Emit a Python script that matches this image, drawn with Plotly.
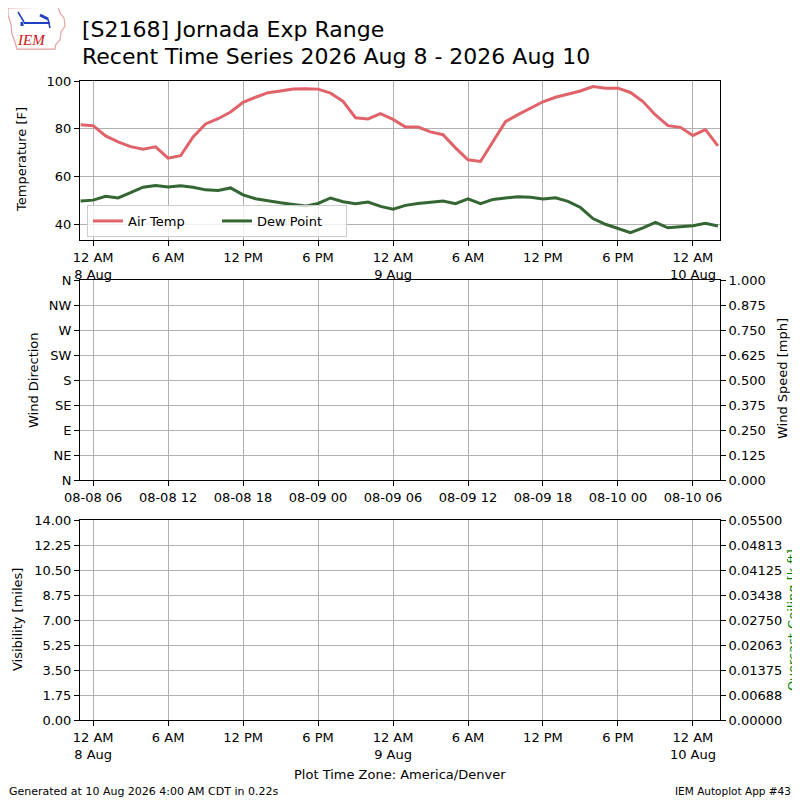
import plotly.graph_objects as go
import pandas as pd

# hourly obs, local time (America/Denver), 2026-08-07 23:00 .. 2026-08-10 02:00
times = pd.date_range("2026-08-07 23:00", "2026-08-10 02:00", freq="h")

air_temp = [81.7, 81.3, 77.0, 74.5, 72.5, 71.4, 72.4, 67.7, 68.7, 76.6,
            82.0, 84.2, 87.0, 91.1, 93.2, 95.1, 95.8, 96.6, 96.8, 96.6,
            94.9, 91.5, 84.6, 84.1, 86.3, 83.9, 80.7, 80.7, 78.7, 77.5,
            72.0, 67.0, 66.3, 74.8, 83.0, 85.9, 88.6, 91.3, 93.2, 94.4,
            95.8, 97.7, 97.0, 97.0, 95.2, 91.4, 85.8, 81.3, 80.6, 77.2,
            79.6, 72.8]
dew_point = [49.7, 50.1, 51.7, 51.0, 53.2, 55.5, 56.2, 55.6, 56.1, 55.5,
             54.4, 54.1, 55.2, 52.3, 50.7, 49.7, 49.0, 48.3, 47.6, 48.7,
             51.0, 49.4, 48.6, 49.3, 47.5, 46.3, 47.9, 48.7, 49.3, 49.7,
             48.6, 50.6, 48.6, 50.4, 51.0, 51.5, 51.3, 50.6, 51.1, 49.6,
             47.0, 42.4, 40.0, 38.2, 36.5, 38.5, 40.8, 38.5, 39.0, 39.4,
             40.4, 39.3]

tick_times = ["2026-08-08 00:00", "2026-08-08 06:00", "2026-08-08 12:00",
              "2026-08-08 18:00", "2026-08-09 00:00", "2026-08-09 06:00",
              "2026-08-09 12:00", "2026-08-09 18:00", "2026-08-10 00:00"]
local_labels = ["12 AM<br>8 Aug", "6 AM", "12 PM", "6 PM", "12 AM<br>9 Aug",
                "6 AM", "12 PM", "6 PM", "12 AM<br>10 Aug"]
utc_labels = ["08-08 06", "08-08 12", "08-08 18", "08-09 00", "08-09 06",
              "08-09 12", "08-09 18", "08-10 00", "08-10 06"]

dir_vals = [0, 45, 90, 135, 180, 225, 270, 315, 360]
dir_labels = ["N", "NE", "E", "SE", "S", "SW", "W", "NW", "N"]
speed_vals = [0, 0.125, 0.25, 0.375, 0.5, 0.625, 0.75, 0.875, 1.0]
vis_vals = [0, 1.75, 3.5, 5.25, 7.0, 8.75, 10.5, 12.25, 14.0]
ceil_vals = [0, 0.006875, 0.01375, 0.020625, 0.0275, 0.034375, 0.04125,
             0.048125, 0.055]
ceil_labels = ["0.00000", "0.00688", "0.01375", "0.02063", "0.02750",
               "0.03438", "0.04125", "0.04813", "0.05500"]

FONT = "DejaVu Sans"
GRID = "#b0b0b0"
x_range = ["2026-08-07 22:57", "2026-08-10 02:10"]

# the page puts the figure 8px in from the top-left corner; place things
# in page pixels and convert
OFF = 8


def px(x):
    return (x - OFF) / 800.0


def py(y):
    return 1 - (y - OFF) / 800.0


fig = go.Figure()

fig.add_trace(go.Scatter(x=times, y=air_temp, mode="lines", name="Air Temp",
                         line=dict(color="#e0636a", width=3),
                         xaxis="x", yaxis="y"))
fig.add_trace(go.Scatter(x=times, y=dew_point, mode="lines", name="Dew Point",
                         line=dict(color="#336633", width=3),
                         xaxis="x", yaxis="y"))
# empty traces so every panel / twin axis is drawn
for xa, ya in [("x2", "y2"), ("x2", "y3"), ("x3", "y4"), ("x3", "y5")]:
    fig.add_trace(go.Scatter(x=[], y=[], xaxis=xa, yaxis=ya, showlegend=False))

xcommon = dict(type="date", range=x_range, tickvals=tick_times,
               showgrid=True, gridcolor=GRID, gridwidth=1,
               showline=True, linecolor="black", linewidth=1, mirror=True,
               ticks="outside", ticklen=5, tickcolor="black",
               zeroline=False, domain=[px(80), px(720)], automargin=False,
               tickfont=dict(family=FONT, size=13, color="black"))
ycommon = dict(showgrid=True, gridcolor=GRID, gridwidth=1,
               showline=True, linecolor="black", linewidth=1, mirror=True,
               ticks="outside", ticklen=5, tickcolor="black", zeroline=False,
               automargin=False,
               tickfont=dict(family=FONT, size=13, color="black"))
yright = dict(showgrid=False, showline=False, ticks="outside", ticklen=5,
              tickcolor="black", zeroline=False, side="right",
              automargin=False,
              tickfont=dict(family=FONT, size=13, color="black"))

fig.update_layout(
    width=800, height=800,
    margin=dict(l=0, r=0, t=0, b=0, autoexpand=False),
    paper_bgcolor="white", plot_bgcolor="white",
    font=dict(family=FONT, size=13, color="black"),
    xaxis=dict(xcommon, anchor="y", ticktext=local_labels),
    yaxis=dict(ycommon, domain=[py(240), py(81)], range=[33.4, 100],
               tickvals=[40, 60, 80, 100]),
    xaxis2=dict(xcommon, anchor="y2", ticktext=utc_labels),
    yaxis2=dict(ycommon, domain=[py(480), py(280)], range=[0, 360],
                tickvals=dir_vals, ticktext=dir_labels, anchor="x2"),
    yaxis3=dict(yright, overlaying="y2", anchor="x2", range=[0, 1],
                tickvals=speed_vals, tickformat=".3f"),
    xaxis3=dict(xcommon, anchor="y4", ticktext=local_labels),
    yaxis4=dict(ycommon, domain=[py(720), py(520)], range=[0, 14],
                tickvals=vis_vals, tickformat=".2f", anchor="x3"),
    yaxis5=dict(yright, overlaying="y4", anchor="x3", range=[0, 0.055],
                tickvals=ceil_vals, ticktext=ceil_labels),
    legend=dict(orientation="h", x=px(87), y=py(205), xanchor="left",
                yanchor="top", bgcolor="rgba(255,255,255,0.8)",
                bordercolor="#cccccc", borderwidth=1,
                font=dict(family=FONT, size=13), entrywidth=84,
                itemwidth=30, tracegroupgap=0),
)

ann = [
    dict(text="[S2168] Jornada Exp Range", x=px(80), y=py(30)),
    dict(text="Recent Time Series 2026 Aug 8 - 2026 Aug 10", x=px(80), y=py(56)),
]
for a in ann:
    fig.add_annotation(xref="paper", yref="paper", xanchor="left",
                       yanchor="middle", showarrow=False,
                       font=dict(family=FONT, size=22, color="black"), **a)

side_titles = [
    ("Temperature [F]", 22, 160, "black"),
    ("Wind Direction", 33, 380, "black"),
    ("Wind Speed [mph]", 782, 379, "black"),
    ("Visibility [miles]", 17, 620, "black"),
    ("Overcast Ceiling [k ft]", 792, 620, "green"),
]
for txt, x, y, c in side_titles:
    fig.add_annotation(text=txt, x=px(x), y=py(y), xref="paper", yref="paper",
                       textangle=-90, showarrow=False, xanchor="center",
                       yanchor="middle",
                       font=dict(family=FONT, size=13, color=c))

fig.add_annotation(text="Plot Time Zone: America/Denver", x=px(400), y=py(774),
                   xref="paper", yref="paper", showarrow=False,
                   xanchor="center", yanchor="middle",
                   font=dict(family=FONT, size=13, color="black"))
fig.add_annotation(text="Generated at 10 Aug 2026 4:00 AM CDT in 0.22s",
                   x=px(7), y=py(791), xref="paper", yref="paper",
                   showarrow=False, xanchor="left", yanchor="middle",
                   font=dict(family=FONT, size=11, color="black"))
fig.add_annotation(text="IEM Autoplot App #43", x=px(793), y=py(791),
                   xref="paper", yref="paper", showarrow=False,
                   xanchor="right", yanchor="middle",
                   font=dict(family=FONT, size=10.5, color="black"))

# simplified IEM logo (Iowa outline, blue glyph, red IEM text)
outline = [(8, 8), (58, 7), (60, 13), (64, 18), (65, 26), (61, 32),
           (60, 40), (56, 44), (55, 49), (17, 49), (15, 42), (12, 34),
           (11, 24), (8, 15)]
path = "M " + " L ".join(f"{px(x):.4f},{py(y):.4f}" for x, y in outline) + " Z"
fig.add_shape(type="path", path=path, xref="paper", yref="paper",
              line=dict(color="#e8a0a0", width=1.2))
for x0, y0, x1, y1, w in [(24, 23, 50, 23, 2), (18, 12, 24, 22, 1.5),
                          (40, 15, 48, 19, 3), (48, 19, 50, 28, 1.5),
                          (22, 22, 22, 26, 3)]:
    fig.add_shape(type="line", x0=px(x0), y0=py(y0), x1=px(x1), y1=py(y1),
                  xref="paper", yref="paper",
                  line=dict(color="#1f3fbf", width=w))
fig.add_annotation(text="IEM", x=px(31), y=py(40), xref="paper", yref="paper",
                   showarrow=False, xanchor="center", yanchor="middle",
                   font=dict(family="Liberation Serif", size=15,
                             color="#d01010", style="italic"))

fig.write_html("out.html")
